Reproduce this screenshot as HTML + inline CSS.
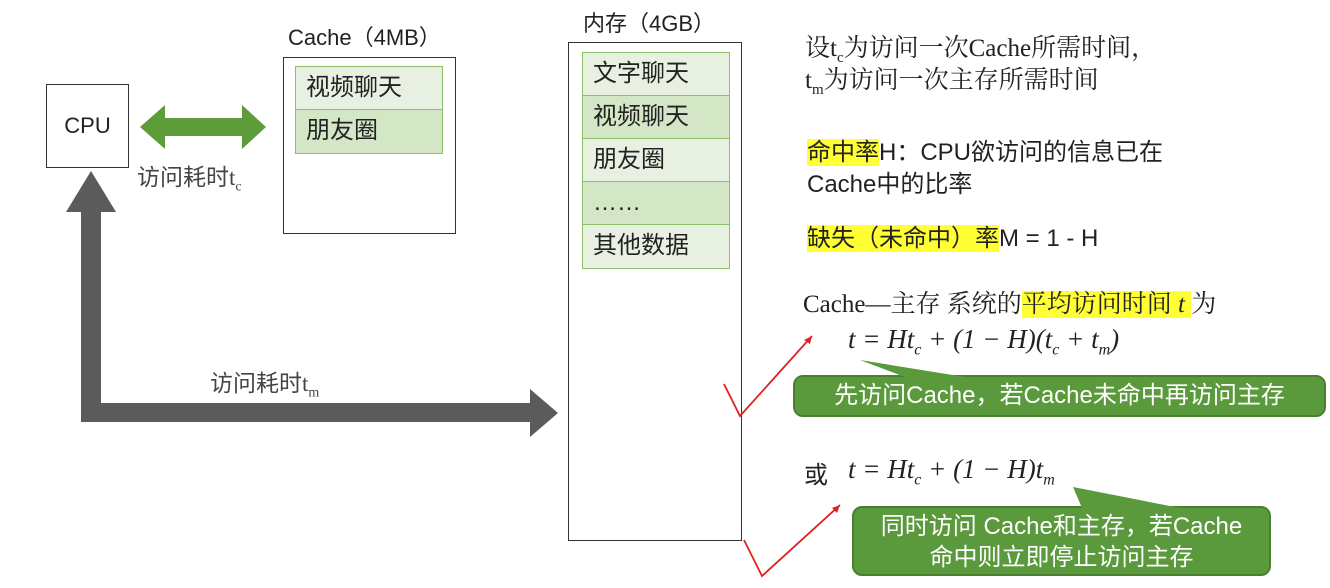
<!DOCTYPE html>
<html><head><meta charset="utf-8"><style>
body{margin:0;width:1330px;height:588px;background:#fff;position:relative;overflow:hidden;font-family:"Liberation Sans","Noto Sans CJK SC",sans-serif;color:#222}
.a{position:absolute;white-space:nowrap}
.box{position:absolute;border:1.5px solid #333;box-sizing:border-box;background:#fff}
.row{position:absolute;border:1.5px solid #8cbf6a;box-sizing:border-box;font-size:24px;padding-left:10px;line-height:42px}
.l{background:#e8f1e1}.d{background:#d3e6c6}
.s{font-family:"Liberation Serif","Noto Serif CJK SC",serif}
.hl{background:#ffff33}
.m{font-family:"Liberation Serif",serif;font-style:italic;font-size:27px}
.call{position:absolute;background:#5a9a3c;border:2px solid #4a7f30;border-radius:10px;color:#fff;font-size:24px;text-align:center;box-sizing:border-box}
</style></head><body>
<div class="box" style="left:46px;top:84px;width:83px;height:84px;font-size:22px;text-align:center;line-height:82px">CPU</div>
<div class="a" style="left:137px;top:158px;font-size:23px;color:#444">访问耗时<span class="s">t<sub style="font-size:14px">c</sub></span></div>
<div class="a" style="left:288px;top:20px;font-size:22px">Cache（4MB）</div>
<div class="box" style="left:283px;top:57px;width:173px;height:177px"></div>
<div class="row l" style="left:295px;top:66px;width:148px;height:45px">视频聊天</div>
<div class="row d" style="left:295px;top:109px;width:148px;height:45px">朋友圈</div>
<div class="a" style="left:210px;top:364px;font-size:23px;color:#444">访问耗时<span class="s">t<sub style="font-size:14px">m</sub></span></div>
<div class="a" style="left:583px;top:6px;font-size:22px">内存（4GB）</div>
<div class="box" style="left:568px;top:42px;width:174px;height:499px"></div>
<div class="row l" style="left:582px;top:52px;width:148px;height:45px">文字聊天</div>
<div class="row d" style="left:582px;top:95px;width:148px;height:45px">视频聊天</div>
<div class="row l" style="left:582px;top:138px;width:148px;height:45px">朋友圈</div>
<div class="row d" style="left:582px;top:181px;width:148px;height:45px">……</div>
<div class="row l" style="left:582px;top:224px;width:148px;height:45px">其他数据</div>
<div class="a s" style="left:805px;top:33px;font-size:25px;line-height:32px">设t<sub style="font-size:15px;line-height:0">c</sub>为访问一次Cache所需时间，<br>t<sub style="font-size:15px;line-height:0">m</sub>为访问一次主存所需时间</div>
<div class="a" style="left:807px;top:137px;font-size:24px;line-height:32px"><span class="hl">命中率</span>H：CPU欲访问的信息已在<br>Cache中的比率</div>
<div class="a" style="left:807px;top:218px;font-size:24px"><span class="hl">缺失（未命中）率</span>M = 1 - H</div>
<div class="a s" style="left:803px;top:284px;font-size:25px">Cache—主存 系统的<span class="hl">平均访问时间 <i>t</i> </span>为</div>
<div class="a m" style="left:848px;top:324px">t = Ht<sub style="font-size:16px">c</sub> + (1 − H)(t<sub style="font-size:16px">c</sub> + t<sub style="font-size:16px">m</sub>)</div>
<div class="call" style="left:793px;top:375px;width:533px;height:42px;line-height:38px">先访问Cache，若Cache未命中再访问主存</div>
<div class="a" style="left:804px;top:455px;font-size:24px">或</div>
<div class="a m" style="left:848px;top:454px">t = Ht<sub style="font-size:16px">c</sub> + (1 − H)t<sub style="font-size:16px">m</sub></div>
<div class="call" style="left:852px;top:506px;width:419px;height:70px;line-height:31px;padding-top:3px">同时访问 Cache和主存，若Cache<br>命中则立即停止访问主存</div>
<svg class="a" style="left:0;top:0" width="1330" height="588">
<polygon points="140,127 165,105 165,118 242,118 242,105 266,127 242,149 242,136 165,136 165,149" fill="#5e9c3a"/>
<polygon points="91,171 116,212 101,212 101,403 530,403 530,389 558,413 530,437 530,422 81,422 81,212 66,212" fill="#5b5b5b"/>
<polyline points="724,384 740,416 812,336" fill="none" stroke="#d22" stroke-width="1.8"/>
<polygon points="812,336 804,340 810,344" fill="#d22"/>
<polyline points="744,540 762,576 840,505" fill="none" stroke="#d22" stroke-width="1.8"/>
<polygon points="840,505 832,508 837,513" fill="#d22"/>
<polygon points="860,360 905,377 965,377" fill="#5a9a3c"/>
<polygon points="1073,487 1082,508 1180,508" fill="#5a9a3c"/>
</svg>
</body></html>
